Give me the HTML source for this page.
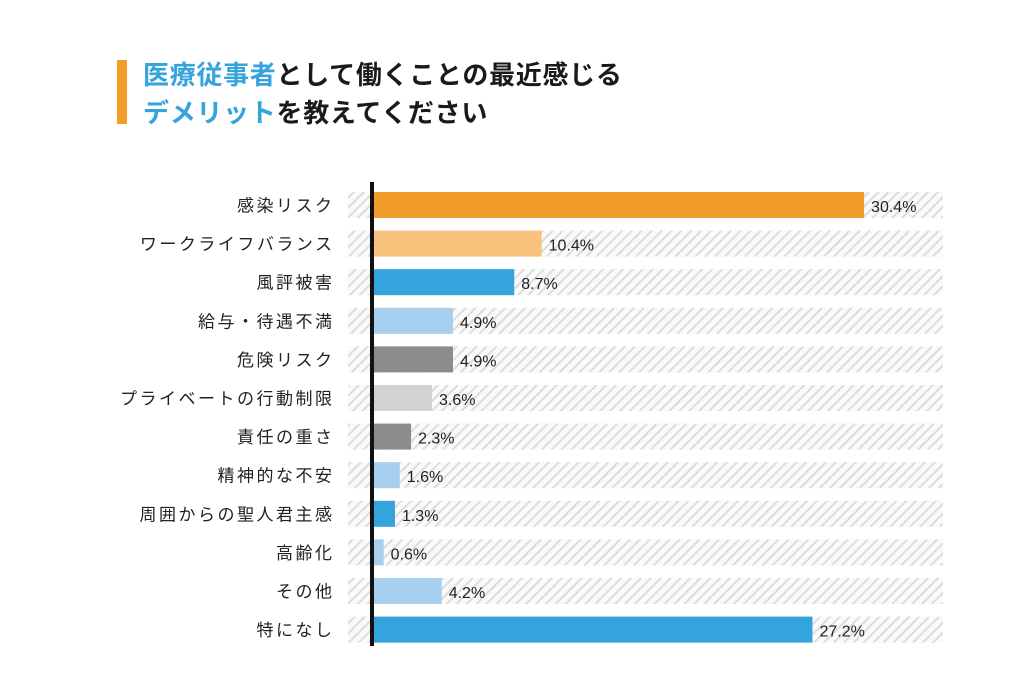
<!DOCTYPE html>
<html><head><meta charset="utf-8"><style>
body{margin:0;background:#fff;}
svg text{font-family:"Liberation Sans","Noto Sans CJK JP",sans-serif;}
</style></head><body>
<svg width="1024" height="683" xmlns="http://www.w3.org/2000/svg">
<defs>
<pattern id="h" width="7" height="7" patternUnits="userSpaceOnUse" patternTransform="rotate(45)">
<rect width="7" height="7" fill="#fafafa"/>
<rect width="2" height="7" fill="#dcdcdc"/>
</pattern>
</defs>
<rect x="117" y="60" width="10" height="64" fill="#F39C2A"/>
<text x="143" y="84" font-size="26" font-weight="bold" letter-spacing="0.7"><tspan fill="#35A3DC">医療従事者</tspan><tspan fill="#1a1a1a">として働くことの最近感じる</tspan></text>
<text x="143" y="122" font-size="26" font-weight="bold" letter-spacing="0.7"><tspan fill="#35A3DC">デメリット</tspan><tspan fill="#1a1a1a">を教えてください</tspan></text>
<g id="rows"></g>
<rect x="370" y="182" width="4" height="464" fill="#111"/>
</svg>
<script>
var d=[["感染リスク",30.4,"#F39C2A"],["ワークライフバランス",10.4,"#F8C27C"],["風評被害",8.7,"#35A3DC"],["給与・待遇不満",4.9,"#A9CFEF"],["危険リスク",4.9,"#8C8C8C"],["プライベートの行動制限",3.6,"#D3D3D3"],["責任の重さ",2.3,"#8C8C8C"],["精神的な不安",1.6,"#A9CFEF"],["周囲からの聖人君主感",1.3,"#35A3DC"],["高齢化",0.6,"#A9CFEF"],["その他",4.2,"#A9CFEF"],["特になし",27.2,"#35A3DC"]];
var g=document.getElementById("rows"),s="";
d.forEach(function(r,i){var y=192+i*38.6,w=r[1]*16.12;
s+='<rect x="348" y="'+y+'" width="595" height="26" fill="url(#h)"/>';
s+='<rect x="374" y="'+y+'" width="'+w+'" height="26" fill="'+r[2]+'"/>';
s+='<text x="334.5" y="'+(y+19.5)+'" font-size="17" letter-spacing="2.5" text-anchor="end" fill="#222">'+r[0]+'</text>';
s+='<text x="'+(374+w+7)+'" y="'+(y+20)+'" font-size="16" fill="#222">'+r[1].toFixed(1)+'%</text>';});
g.innerHTML=s;
</script>
</body></html>
